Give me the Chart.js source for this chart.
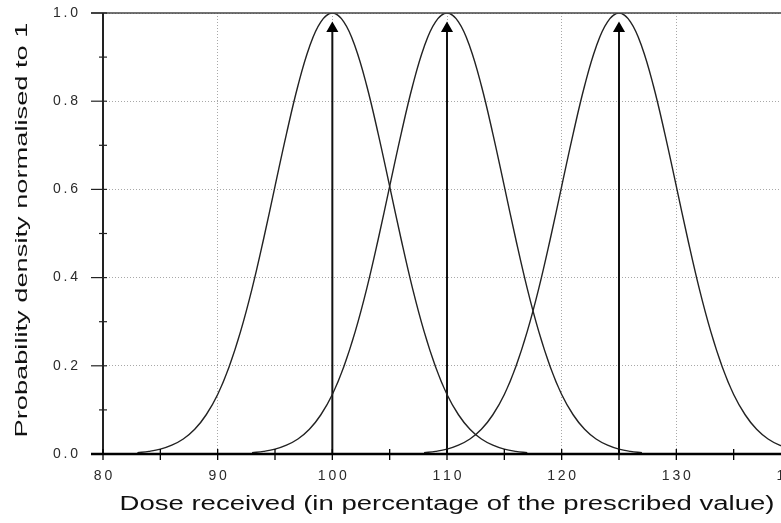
<!DOCTYPE html>
<html>
<head>
<meta charset="utf-8">
<script src="https://cdn.jsdelivr.net/npm/chart.js@4.4.1/dist/chart.umd.min.js"></script>
<style>
  html, body { margin: 0; padding: 0; background: #fff; overflow: hidden; }
  #wrap { width: 781px; height: 523px; overflow: hidden; }
</style>
</head>
<body>
<div id="wrap"><canvas id="doseChart" width="820" height="523"></canvas></div>
<script>
// dose (% of prescribed) for each curve, and density normalised to 1
const doseA = [83,84,85,86,87,88,89,90,91,92,93,94,95,96,97,98,99,100,101,102,103,104,105,106,107,108,109,110,111,112,113,114,115,116,117];
const densityA = [0.003,0.006,0.011,0.02,0.034,0.056,0.089,0.135,0.198,0.278,0.375,0.487,0.607,0.726,0.835,0.923,0.98,1.0,0.98,0.923,0.835,0.726,0.607,0.487,0.375,0.278,0.198,0.135,0.089,0.056,0.034,0.02,0.011,0.006,0.003];

const doseB = [93,94,95,96,97,98,99,100,101,102,103,104,105,106,107,108,109,110,111,112,113,114,115,116,117,118,119,120,121,122,123,124,125,126,127];
const densityB = [0.003,0.006,0.011,0.02,0.034,0.056,0.089,0.135,0.198,0.278,0.375,0.487,0.607,0.726,0.835,0.923,0.98,1.0,0.98,0.923,0.835,0.726,0.607,0.487,0.375,0.278,0.198,0.135,0.089,0.056,0.034,0.02,0.011,0.006,0.003];

const doseC = [108,109,110,111,112,113,114,115,116,117,118,119,120,121,122,123,124,125,126,127,128,129,130,131,132,133,134,135,136,137,138,139,140];
const densityC = [0.003,0.006,0.011,0.02,0.034,0.056,0.089,0.135,0.198,0.278,0.375,0.487,0.607,0.726,0.835,0.923,0.98,1.0,0.98,0.923,0.835,0.726,0.607,0.487,0.375,0.278,0.198,0.135,0.089,0.056,0.034,0.02,0.011];

// arrows marking the prescribed doses
const arrowDose = [100, 110, 125];
const arrowTop = 0.965;

const xTickLabels = [80, 90, 100, 110, 120, 130, 140];
const yTickLabels = ["0.0", "0.2", "0.4", "0.6", "0.8", "1.0"];

const xTitle = "Dose received (in percentage of the prescribed value)";
const yTitle = "Probability density normalised to 1";

const FONT = "'Liberation Sans', Arial, sans-serif";

function pairs(xs, ys) {
  return xs.map((x, i) => ({ x: x, y: ys[i] }));
}

// the original tick digits are spaced out
function spaced(s) {
  return String(s).split("").join("\u2009");
}

const curveStyle = {
  borderColor: "#222",
  borderWidth: 1.4,
  pointRadius: 0,
  tension: 0.4,
  fill: false,
};

const datasets = [
  Object.assign({ data: pairs(doseA, densityA) }, curveStyle),
  Object.assign({ data: pairs(doseB, densityB) }, curveStyle),
  Object.assign({ data: pairs(doseC, densityC) }, curveStyle),
];

arrowDose.forEach((d) => {
  datasets.push({
    data: [{ x: d, y: 0 }, { x: d, y: arrowTop }],
    borderColor: "#111",
    borderWidth: 2,
    pointRadius: [0, 5],
    pointStyle: "triangle",
    pointBackgroundColor: "#000",
    pointBorderColor: "#000",
    tension: 0,
  });
});

// axis lines, crossing tick marks and the stretched axis titles
const decorPlugin = {
  id: "decor",
  afterDatasetsDraw(chart) {
    const ctx = chart.ctx;
    const xs = chart.scales.x;
    const ys = chart.scales.y;
    const area = chart.chartArea;
    const y0 = ys.getPixelForValue(0);
    const x0 = xs.getPixelForValue(80);
    const yTop = ys.getPixelForValue(1);
    ctx.save();

    // top line at 1.0
    ctx.strokeStyle = "#444";
    ctx.lineWidth = 1.5;
    ctx.beginPath();
    ctx.moveTo(x0 - 12, yTop);
    ctx.lineTo(area.right + 40, yTop);
    ctx.stroke();

    // y axis
    ctx.strokeStyle = "#222";
    ctx.lineWidth = 2;
    ctx.beginPath();
    ctx.moveTo(x0, yTop);
    ctx.lineTo(x0, y0);
    ctx.stroke();

    // y tick marks
    ctx.lineWidth = 1.2;
    for (let v = 0; v <= 10; v++) {
      const py = ys.getPixelForValue(v / 10);
      ctx.beginPath();
      if (v % 2 === 0) {
        ctx.moveTo(x0 - 12, py);
      } else {
        ctx.moveTo(x0 - 4, py);
      }
      ctx.lineTo(x0 + 4, py);
      ctx.stroke();
    }

    // x axis (zero line)
    ctx.strokeStyle = "#000";
    ctx.lineWidth = 2.5;
    ctx.beginPath();
    ctx.moveTo(x0 - 12, y0);
    ctx.lineTo(area.right + 40, y0);
    ctx.stroke();

    // x tick marks
    ctx.lineWidth = 1.3;
    for (let v = 80; v <= 140; v += 5) {
      const px = xs.getPixelForValue(v);
      ctx.beginPath();
      ctx.moveTo(px, y0 - 5);
      ctx.lineTo(px, y0 + 6);
      ctx.stroke();
    }

    // titles
    ctx.fillStyle = "#111";
    ctx.textAlign = "center";
    ctx.textBaseline = "middle";

    ctx.font = "20px " + FONT;
    let w = ctx.measureText(xTitle).width;
    ctx.save();
    ctx.translate(447, 504);
    ctx.scale(655 / w, 1);
    ctx.fillText(xTitle, 0, 0);
    ctx.restore();

    ctx.font = "17px " + FONT;
    w = ctx.measureText(yTitle).width;
    ctx.save();
    ctx.translate(22, 230);
    ctx.rotate(-Math.PI / 2);
    ctx.scale(415 / w, 1);
    ctx.fillText(yTitle, 0, 0);
    ctx.restore();

    ctx.restore();
  },
};

new Chart(document.getElementById("doseChart"), {
  type: "line",
  data: { datasets: datasets },
  options: {
    responsive: false,
    animation: false,
    layout: { padding: { left: 0, right: 29, top: 13, bottom: 0 } },
    plugins: {
      legend: { display: false },
      tooltip: { enabled: false },
    },
    scales: {
      x: {
        type: "linear",
        min: 80,
        max: 140,
        afterFit(scale) {
          scale.height = 69;
          scale.paddingLeft = 0;
          scale.paddingRight = 0;
        },
        border: { display: false, dash: [1, 2] },
        grid: {
          drawTicks: false,
          color: (c) => (c.tick && c.tick.value % 10 === 0 ? "#a8a8a8" : "rgba(0,0,0,0)"),
          lineWidth: 1,
        },
        ticks: {
          stepSize: 5,
          autoSkip: false,
          maxRotation: 0,
          padding: 14,
          color: "#2a2a2a",
          font: { family: FONT, size: 14 },
          callback: (v) => (xTickLabels.includes(v) ? spaced(v) : ""),
        },
      },
      y: {
        min: 0,
        max: 1,
        afterFit(scale) {
          scale.width = 103;
          scale.paddingTop = 0;
          scale.paddingBottom = 0;
        },
        border: { display: false, dash: [1, 2] },
        grid: {
          drawTicks: false,
          color: (c) => (c.tick && Math.round(c.tick.value * 10) % 2 === 0 ? "#a8a8a8" : "rgba(0,0,0,0)"),
          lineWidth: 1,
        },
        ticks: {
          stepSize: 0.2,
          padding: 25,
          color: "#2a2a2a",
          font: { family: FONT, size: 14 },
          callback: (v, i) => spaced(yTickLabels[i]),
        },
      },
    },
  },
  plugins: [decorPlugin],
});
</script>
</body>
</html>
